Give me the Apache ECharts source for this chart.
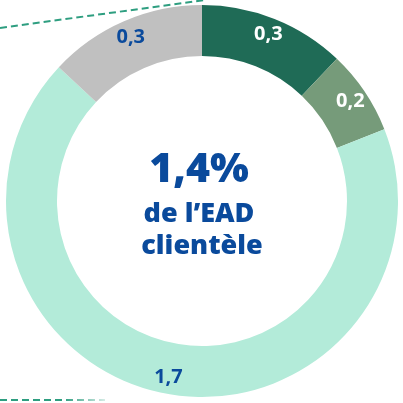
<!DOCTYPE html>
<html><head><meta charset="utf-8">
<script src="https://cdn.jsdelivr.net/npm/echarts@6/dist/echarts.min.js"></script>
<style>html,body{margin:0;padding:0;background:#fff}#c{width:403px;height:403px}</style>
</head><body><div id="c"></div>
<script>
const categories = ['Segment A', 'Segment B', 'Segment C', 'Segment D'];
const values = [0.302, 0.174, 1.699, 0.326];
const colors = ['#1f6b56', '#769b7a', '#b3ebd9', '#c0c0c0'];
const labelColors = ['#ffffff', '#ffffff', '#0a4a9c', '#0a4a9c'];
const centerLines = ['1,4%', 'de l\u2019EAD', 'clientèle'];

const FONT = '"Open Sans", "Liberation Sans", sans-serif';
const chart = echarts.init(document.getElementById('c'));
const base = {
  type: 'pie', center: [202, 201], startAngle: 90, clockwise: true, silent: true
};
chart.setOption({
  animation: false,
  series: [
    Object.assign({}, base, {
      radius: [145, 196],
      label: { show: false }, labelLine: { show: false },
      data: categories.map((c, i) => ({ name: c, value: values[i], itemStyle: { color: colors[i] } }))
    }),
    Object.assign({}, base, {
      radius: [154, 198],
      itemStyle: { color: 'rgba(0,0,0,0)' },
      label: {
        show: true, position: 'inside',
        fontFamily: FONT, fontWeight: 'bold', fontSize: 20,
        formatter: p => p.value.toFixed(1).replace('.', ',')
      },
      labelLine: { show: false },
      data: categories.map((c, i) => ({ name: c, value: values[i], label: { color: labelColors[i] } }))
    })
  ],
  graphic: [
    { type: 'line', shape: { x1: 0, y1: 28, x2: 205, y2: 0 },
      style: { stroke: '#2e9e80', lineWidth: 2, lineDash: [7, 4] } },
    { type: 'line', shape: { x1: 0, y1: 400, x2: 105, y2: 400 },
      style: { stroke: new echarts.graphic.LinearGradient(0, 0, 1, 0, [
        { offset: 0, color: '#2e9e80' }, { offset: 0.6, color: '#2e9e80' }, { offset: 1, color: 'rgba(46,158,128,0.15)' }]),
        lineWidth: 2, lineDash: [7, 4] } },
    { type: 'text', x: 199, y: 170, style: { text: centerLines[0], fill: '#0a4a9c', font: '800 41px ' + FONT, textAlign: 'center', textVerticalAlign: 'middle' } },
    { type: 'text', x: 199, y: 214, style: { text: centerLines[1], fill: '#0a4a9c', font: '800 27px ' + FONT, textAlign: 'center', textVerticalAlign: 'middle' } },
    { type: 'text', x: 202, y: 246, style: { text: centerLines[2], fill: '#0a4a9c', font: '800 27px ' + FONT, textAlign: 'center', textVerticalAlign: 'middle' } }
  ]
});
</script></body></html>
